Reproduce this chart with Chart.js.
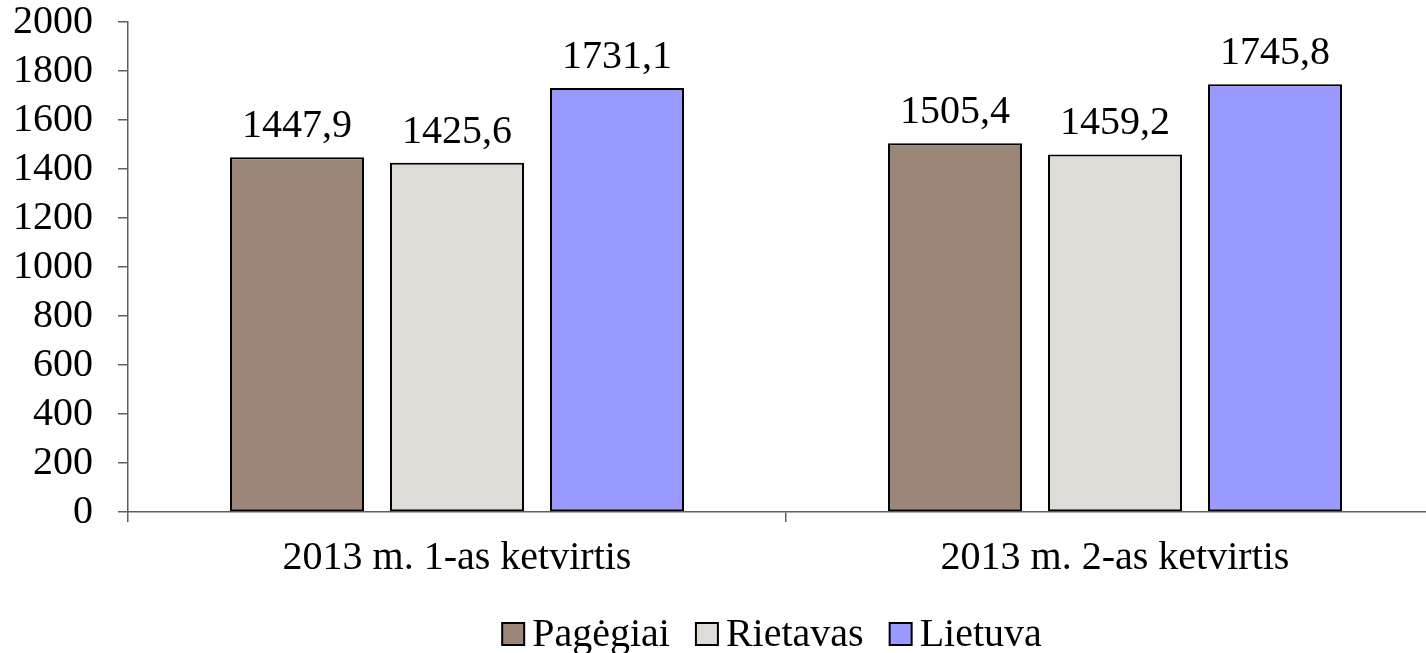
<!DOCTYPE html>
<html>
<head>
<meta charset="utf-8">
<script src="https://cdn.jsdelivr.net/npm/chart.js@4/dist/chart.umd.min.js"></script>
<style>
  html, body { margin: 0; padding: 0; background: #ffffff; overflow: hidden; width: 1426px; height: 653px; }
  #wrap { width: 1444px; height: 664px; }
  canvas { display: block; }
</style>
</head>
<body>
<div id="wrap"><canvas id="c" width="1444" height="664" style="width:1444px;height:664px"></canvas></div>
<script>
const categories = ["2013 m. 1-as ketvirtis", "2013 m. 2-as ketvirtis"];
const seriesNames = ["Pagėgiai", "Rietavas", "Lietuva"];
const pagegiai = [1447.9, 1505.4];
const rietavas = [1425.6, 1459.2];
const lietuva = [1731.1, 1745.8];
const yTicksMin = 0, yTicksMax = 2000, yTicksStep = 200;

const colors = ["#9C8678", "#DFDBD7", "#9999FF"];
const FONT = "'Liberation Serif', 'Times New Roman', serif";
const FS = 40;
const axisColor = "#5f5f5f";

const valueLabels = {
  id: 'valueLabels',
  afterDatasetsDraw(chart) {
    const ctx = chart.ctx;
    ctx.save();
    ctx.font = FS + "px " + FONT;
    ctx.fillStyle = "#000";
    ctx.textAlign = "center";
    ctx.textBaseline = "alphabetic";
    chart.data.datasets.forEach((ds, i) => {
      const meta = chart.getDatasetMeta(i);
      meta.data.forEach((el, j) => {
        const txt = ds.data[j].toFixed(1).replace('.', ',');
        ctx.fillText(txt, el.x, el.y - 20);
      });
    });
    ctx.restore();
  }
};

// Legend drawn in the Excel style: small square, short gap, label
const excelLegend = {
  id: 'excelLegend',
  afterDraw(chart) {
    const ctx = chart.ctx;
    ctx.save();
    ctx.font = FS + "px " + FONT;
    ctx.textBaseline = "middle";
    ctx.textAlign = "left";
    const box = 22, gapText = 8, gapItem = 26;
    const items = chart.data.datasets.map(d => ({ text: d.label, color: d.backgroundColor, w: ctx.measureText(d.label).width }));
    const total = items.reduce((s, it) => s + box + gapText + it.w, 0) + gapItem * (items.length - 1);
    const cy = 634;
    let x = 772 - total / 2;
    items.forEach(it => {
      ctx.fillStyle = it.color;
      ctx.fillRect(x, cy - box / 2, box, box);
      ctx.lineWidth = 2;
      ctx.strokeStyle = "#000";
      ctx.strokeRect(x, cy - box / 2, box, box);
      ctx.fillStyle = "#000";
      ctx.fillText(it.text, x + box + gapText, cy + 1);
      x += box + gapText + it.w + gapItem;
    });
    ctx.restore();
  }
};

const ds = [pagegiai, rietavas, lietuva].map((d, i) => ({
  label: seriesNames[i],
  data: d,
  backgroundColor: colors[i],
  borderColor: "#000000",
  borderWidth: 2,
  borderSkipped: false,
  categoryPercentage: 0.7295,
  barPercentage: 0.8375
}));

new Chart(document.getElementById('c'), {
  type: 'bar',
  data: { labels: categories, datasets: ds },
  options: {
    responsive: false,
    animation: false,
    devicePixelRatio: 1,
    layout: { padding: { top: 0, left: 0, right: 0, bottom: 60 } },
    plugins: {
      legend: { display: false },
      tooltip: { enabled: false },
      title: { display: false }
    },
    scales: {
      y: {
        min: yTicksMin,
        max: yTicksMax,
        ticks: {
          stepSize: yTicksStep,
          autoSkip: false,
          color: "#000",
          padding: 25,
          font: { family: FONT, size: FS, lineHeight: 1.1 },
          callback: (v) => String(v)
        },
        grid: { drawOnChartArea: false, drawTicks: true, tickLength: 10, color: axisColor, lineWidth: 1.5 },
        border: { display: true, color: axisColor, width: 1.5 },
        afterFit(scale) { scale.width = 128; scale.paddingTop = 22; scale.paddingBottom = 10; }
      },
      x: {
        ticks: {
          color: "#000",
          padding: 12,
          autoSkip: false,
          maxRotation: 0,
          font: { family: FONT, size: FS, lineHeight: 1.2 }
        },
        grid: { offset: true, drawOnChartArea: false, drawTicks: true, tickLength: 10, color: axisColor, lineWidth: 1.5 },
        border: { display: true, color: axisColor, width: 1.5 },
        afterFit(scale) { scale.height = 92; scale.paddingLeft = 0; scale.paddingRight = 0; }
      }
    }
  },
  plugins: [valueLabels, excelLegend]
});
</script>
</body>
</html>
